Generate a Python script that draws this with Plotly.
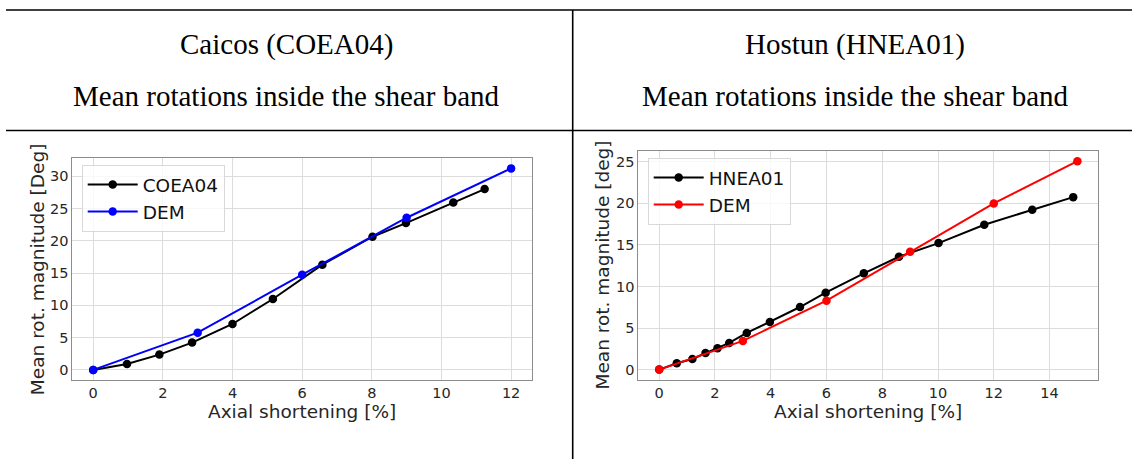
import plotly.graph_objects as go

# Caicos sand, sample COEA04 vs DEM
coea04_x = [0, 0.97, 1.90, 2.84, 4.0, 5.16, 6.58, 8.02, 8.98, 10.34, 11.24]
coea04_y = [0, 0.93, 2.37, 4.23, 7.11, 10.98, 16.29, 20.62, 22.73, 25.93, 27.99]
caicos_dem_x = [0, 3, 6, 9, 12]
caicos_dem_y = [0, 5.77, 14.74, 23.56, 31.2]

# Hostun sand, sample HNEA01 vs DEM
hnea01_x = [0, 0.63, 1.19, 1.66, 2.09, 2.51, 3.14, 3.97, 5.05, 5.97, 7.34, 8.60, 10.02, 11.66, 13.38, 14.85]
hnea01_y = [0, 0.76, 1.28, 2.0, 2.56, 3.21, 4.41, 5.73, 7.53, 9.25, 11.58, 13.58, 15.22, 17.43, 19.23, 20.75]
hostun_dem_x = [0, 3, 6, 9, 12, 15]
hostun_dem_y = [0, 3.45, 8.29, 14.18, 19.99, 25.08]

left_ticks_x = [0, 2, 4, 6, 8, 10, 12]
left_ticks_y = [0, 5, 10, 15, 20, 25, 30]
right_ticks_x = [0, 2, 4, 6, 8, 10, 12, 14]
right_ticks_y = [0, 5, 10, 15, 20, 25]

header_left = ["Caicos (COEA04)", "Mean rotations inside the shear band"]
header_right = ["Hostun (HNEA01)", "Mean rotations inside the shear band"]

W, H = 1132, 459


def px_x(v):
    return v / W


def px_y(v):
    return 1 - v / H


fig = go.Figure()

line_w = 2
mk = 8.5

fig.add_trace(go.Scatter(x=coea04_x, y=coea04_y, name="COEA04", mode="lines+markers",
                         line=dict(color="black", width=line_w), marker=dict(size=mk, color="black"),
                         xaxis="x", yaxis="y", legend="legend"))
fig.add_trace(go.Scatter(x=caicos_dem_x, y=caicos_dem_y, name="DEM", mode="lines+markers",
                         line=dict(color="#0000ff", width=line_w), marker=dict(size=mk, color="#0000ff"),
                         xaxis="x", yaxis="y", legend="legend"))
fig.add_trace(go.Scatter(x=hnea01_x, y=hnea01_y, name="HNEA01", mode="lines+markers",
                         line=dict(color="black", width=line_w), marker=dict(size=mk, color="black"),
                         xaxis="x2", yaxis="y2", legend="legend2"))
fig.add_trace(go.Scatter(x=hostun_dem_x, y=hostun_dem_y, name="DEM", mode="lines+markers",
                         line=dict(color="#ff0000", width=line_w), marker=dict(size=mk, color="#ff0000"),
                         xaxis="x2", yaxis="y2", legend="legend2"))

tick_font = dict(family="DejaVu Sans", size=14.5, color="#262626")
axis_common = dict(showline=True, linecolor="#8c8c8c", linewidth=1, mirror=True,
                   showgrid=True, gridcolor="#dcdcdc", gridwidth=1, zeroline=False,
                   ticks="", tickfont=tick_font)

# plot-area placement in pixels
L_left, L_right, L_top, L_bot = 72.3, 532.0, 158.3, 380.0
R_left, R_right, R_top, R_bot = 638.3, 1098.3, 151.0, 380.0

legend_font = dict(family="DejaVu Sans", size=18.5, color="#111")

fig.update_layout(
    width=W, height=H, margin=dict(l=0, r=0, t=0, b=0),
    paper_bgcolor="white", plot_bgcolor="white",
    xaxis=dict(domain=[px_x(L_left), px_x(L_right)], range=[-0.6, 12.6],
               tickvals=left_ticks_x, anchor="y", **axis_common),
    yaxis=dict(domain=[px_y(L_bot), px_y(L_top)], range=[-1.56, 32.76],
               tickvals=left_ticks_y, anchor="x", **axis_common),
    xaxis2=dict(domain=[px_x(R_left), px_x(R_right)], range=[-0.75, 15.75],
                tickvals=right_ticks_x, anchor="y2", **axis_common),
    yaxis2=dict(domain=[px_y(R_bot), px_y(R_top)], range=[-1.25, 26.3],
                tickvals=right_ticks_y, anchor="x2", **axis_common),
    legend=dict(x=px_x(81.7), y=px_y(165.0), xanchor="left", yanchor="top",
                bgcolor="rgba(255,255,255,0.8)", bordercolor="#d9d9d9", borderwidth=1,
                font=legend_font, itemwidth=50, tracegroupgap=2),
    legend2=dict(x=px_x(647.7), y=px_y(158.0), xanchor="left", yanchor="top",
                 bgcolor="rgba(255,255,255,0.8)", bordercolor="#d9d9d9", borderwidth=1,
                 font=legend_font, itemwidth=50, tracegroupgap=2),
    showlegend=True,
)

title_font = dict(family="DejaVu Sans", size=18.5, color="#262626")
header_font = dict(family="Liberation Serif", size=29, color="black")

annotations = [
    # axis titles
    dict(text="Axial shortening [%]", x=px_x((L_left + L_right) / 2), y=px_y(411),
         xanchor="center", yanchor="middle", font=title_font, showarrow=False),
    dict(text="Axial shortening [%]", x=px_x((R_left + R_right) / 2), y=px_y(411),
         xanchor="center", yanchor="middle", font=title_font, showarrow=False),
    dict(text="Mean rot. magnitude [Deg]", x=px_x(37), y=px_y((L_top + L_bot) / 2),
         xanchor="center", yanchor="middle", textangle=-90, font=title_font, showarrow=False),
    dict(text="Mean rot. magnitude [deg]", x=px_x(602), y=px_y((R_top + R_bot) / 2),
         xanchor="center", yanchor="middle", textangle=-90, font=title_font, showarrow=False),
    # table header cells
    dict(text=header_left[0], x=px_x(286.5), y=px_y(45), xanchor="center", yanchor="middle",
         font=header_font, showarrow=False),
    dict(text=header_left[1], x=px_x(286.5), y=px_y(96), xanchor="center", yanchor="middle",
         font=header_font, showarrow=False),
    dict(text=header_right[0], x=px_x(855), y=px_y(45), xanchor="center", yanchor="middle",
         font=header_font, showarrow=False),
    dict(text=header_right[1], x=px_x(855), y=px_y(96), xanchor="center", yanchor="middle",
         font=header_font, showarrow=False),
]
for a in annotations:
    a.update(xref="paper", yref="paper")
fig.update_layout(annotations=annotations)

# table rules
rule = dict(color="black", width=1.6)
fig.add_shape(type="line", xref="paper", yref="paper", x0=px_x(6), x1=1, y0=px_y(10), y1=px_y(10), line=rule)
fig.add_shape(type="line", xref="paper", yref="paper", x0=px_x(6), x1=1, y0=px_y(130.5), y1=px_y(130.5), line=rule)
fig.add_shape(type="line", xref="paper", yref="paper", x0=px_x(572.7), x1=px_x(572.7), y0=px_y(10), y1=0, line=rule)

fig.write_html("out.html")
